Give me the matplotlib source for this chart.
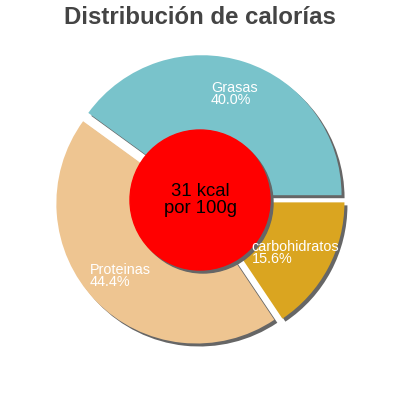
import matplotlib
matplotlib.use("Agg")
import matplotlib.pyplot as plt
from matplotlib.patches import Circle

labels = ["Grasas", "Proteinas", "carbohidratos"]
values = [40.0, 44.4, 15.6]
colors = ["#79c3cb", "#eec591", "#daa520"]
center_text = "31 kcal\npor 100g"
title = "Distribución de calorías"

# label anchor positions (data units, pie radius = 1)
label_pos = [(0.079, 0.754), (-0.786, -0.54), (0.37, -0.38)]

R = 140.0
fig = plt.figure(figsize=(4, 4), dpi=100)
ax = fig.add_axes([0, 0, 1, 1])
lim = 200 / R

explode = [0.036] * len(values)
sh = 3 / R
# shadow
ax.pie(values, explode=explode, colors=["#666666"] * 3, startangle=0,
       counterclock=True, radius=1, center=(sh, -sh), frame=True)
ax.pie(values, explode=explode, colors=colors, startangle=0,
       counterclock=True, radius=1, center=(0, 0), frame=True)
ax.set_xlim(-lim, lim)
ax.set_ylim(-lim, lim)
ax.set_aspect("equal")
ax.axis("off")

ax.add_patch(Circle((sh, -sh), 0.5, color="#666666", zorder=5))
ax.add_patch(Circle((0, 0), 0.5, color="#ff0000", zorder=6))
ax.text(0, 0, center_text, ha="center", va="center", fontsize=13.3,
        family="Liberation Sans", color="black", zorder=7, linespacing=1.0)

for lab, v, (x, y) in zip(labels, values, label_pos):
    ax.text(x, y, f"{lab}\n{v:.1f}%", ha="left", va="center", fontsize=10.4,
            family="Liberation Sans", color="white",
            zorder=8, linespacing=0.82)

fig.text(0.5, 1 - 18 / 400, title, ha="center", va="center", fontsize=17.3,
         family="Liberation Sans", fontweight="bold", color="#444444")

fig.savefig("out.png", dpi=100)
